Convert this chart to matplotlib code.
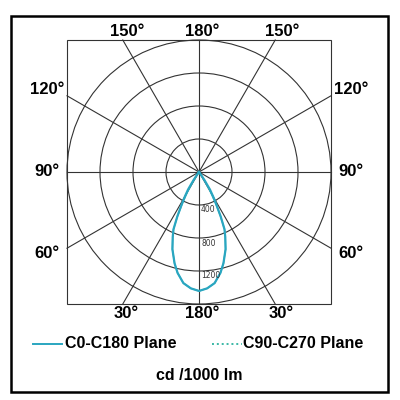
import numpy as np
import matplotlib
matplotlib.use("Agg")
import matplotlib.pyplot as plt
import matplotlib.patches as mpatches

# luminous intensity (cd / 1000 lm) vs angle from nadir, symmetric lobe
gamma = [0, 4, 8, 12, 15, 19, 22, 24, 26, 28, 30, 32, 34, 36, 38, 40]
c0_c180 = [1442, 1414, 1360, 1250, 1145, 990, 850, 760, 600, 450, 340, 250, 120, 30, 0, 0]
c90_c270 = [1442, 1414, 1360, 1250, 1145, 990, 850, 760, 590, 420, 270, 150, 60, 10, 0, 0]

ring_values = [400, 800, 1200, 1600]
ring_labels = ["400", "800", "1200"]
top_labels = ["150°", "180°", "150°"]
side_labels = ["120°", "90°", "60°"]
bottom_labels = ["30°", "180°", "30°"]
legend_labels = ["C0-C180 Plane", "C90-C270 Plane"]
unit_label = "cd /1000 lm"

BIG = ['Liberation Sans', 'DejaVu Sans']

# pixel layout
cx, cy = 199, 172
R = 132.0                  # outer ring radius in px
px_per_cd = R / ring_values[-1]

fig = plt.figure(figsize=(4, 4), dpi=100)
ax = fig.add_axes([0, 0, 1, 1])
ax.set_xlim(0, 400)
ax.set_ylim(400, 0)
ax.axis('off')

# outer frame
ax.add_patch(mpatches.Rectangle((11, 16), 377, 376, fill=False,
                                edgecolor='black', linewidth=1.8))
# inner box
ax.add_patch(mpatches.Rectangle((cx - R, cy - R), 2 * R, 2 * R, fill=False,
                                edgecolor='#333333', linewidth=0.8))

# rings
for v in ring_values:
    ax.add_patch(mpatches.Circle((cx, cy), v * px_per_cd, fill=False,
                                 edgecolor='#333333', linewidth=0.8))

# radial lines every 30 deg, out to the box edge
for a in range(0, 180, 30):
    t = np.deg2rad(a)
    dx, dy = np.sin(t), np.cos(t)
    s = R / max(abs(dx), abs(dy))
    ax.plot([cx - dx * s, cx + dx * s], [cy - dy * s, cy + dy * s],
            color='#333333', lw=0.8)

# ring value labels
for v, lab in zip(ring_values, ring_labels):
    ax.text(cx + 2, cy + v * px_per_cd + 5, lab, fontsize=5.5,
            color='#333333', ha='left', va='center')

# intensity curves (mirrored for both sides)
def curve(vals):
    g = np.deg2rad(np.concatenate([-np.array(gamma[::-1]), np.array(gamma[1:])]))
    r = np.concatenate([np.array(vals[::-1]), np.array(vals[1:])]) * px_per_cd
    return cx + r * np.sin(g), cy + r * np.cos(g)

x2, y2 = curve(c90_c270)
ax.plot(x2, y2, color='#3bb8c0', lw=1.0)
x1, y1 = curve(c0_c180)
ax.plot(x1, y1, color='#2aa6c0', lw=1.6)

# angle labels
kw = dict(fontsize=12, fontweight='bold', family=BIG, ha='center', va='center')
for x, lab in zip([127, 202, 282], top_labels):
    ax.text(x, 31, lab, **kw)
for y, lab in zip([90, 172, 253], side_labels):
    ax.text(47, y, lab, **kw)
    ax.text(351, y, lab, **kw)
for x, lab in zip([126, 202, 281], bottom_labels):
    ax.text(x, 313, lab, **kw)

# legend
ax.plot([33, 62], [344, 344], color='#2aa6c0', lw=1.4)
ax.text(65, 344, legend_labels[0], fontsize=11.5, fontweight='bold', family=BIG,
        ha='left', va='center')
ax.plot([212, 242], [344, 344], color='#3bb8a6', lw=1.4, ls=(0, (1, 1.5)))
ax.text(243, 344, legend_labels[1], fontsize=11.5, fontweight='bold', family=BIG,
        ha='left', va='center')
ax.text(199, 376, unit_label, fontsize=11.5, fontweight='bold', family=BIG,
        ha='center', va='center')

fig.savefig('out.png', dpi=100)
